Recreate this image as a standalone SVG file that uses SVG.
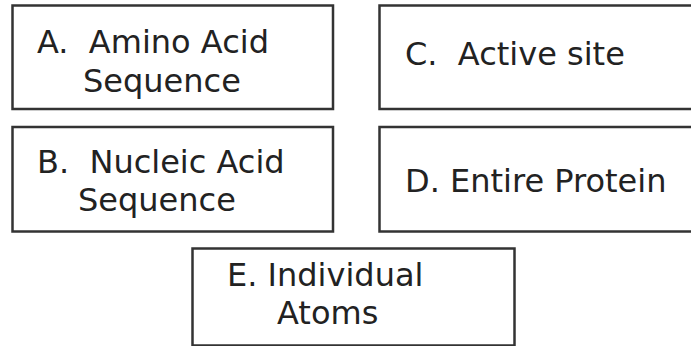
<svg xmlns="http://www.w3.org/2000/svg" width="691" height="346" viewBox="0 0 691 346">
<style>
rect.box{fill:#fff;stroke:#333;stroke-width:2.5}
text{font-family:"DejaVu Sans",Verdana,sans-serif;font-size:32px;fill:#222;white-space:pre}
</style>
<rect width="691" height="346" fill="#fff"/>
<g id="connectors"/>
<g id="nodeA">
<rect class="box" x="12.5" y="5.5" width="320.5" height="103.5"/>
<text x="37" y="53" xml:space="preserve">A.  Amino Acid</text>
<text x="83" y="92">Sequence</text>
</g>
<g id="nodeC">
<rect class="box" x="379.5" y="5.5" width="330" height="103.5"/>
<text x="405" y="65" xml:space="preserve">C.  Active site</text>
</g>
<g id="nodeB">
<rect class="box" x="12.5" y="127" width="320.5" height="104.5"/>
<text x="37" y="173" xml:space="preserve">B.  Nucleic Acid</text>
<text x="78" y="211">Sequence</text>
</g>
<g id="nodeD">
<rect class="box" x="379.5" y="127" width="330" height="104.5"/>
<text x="405" y="192">D. Entire Protein</text>
</g>
<g id="nodeE">
<rect class="box" x="192.5" y="248.5" width="322" height="97"/>
<text x="227" y="286">E. Individual</text>
<text x="277" y="324">Atoms</text>
</g>
</svg>
